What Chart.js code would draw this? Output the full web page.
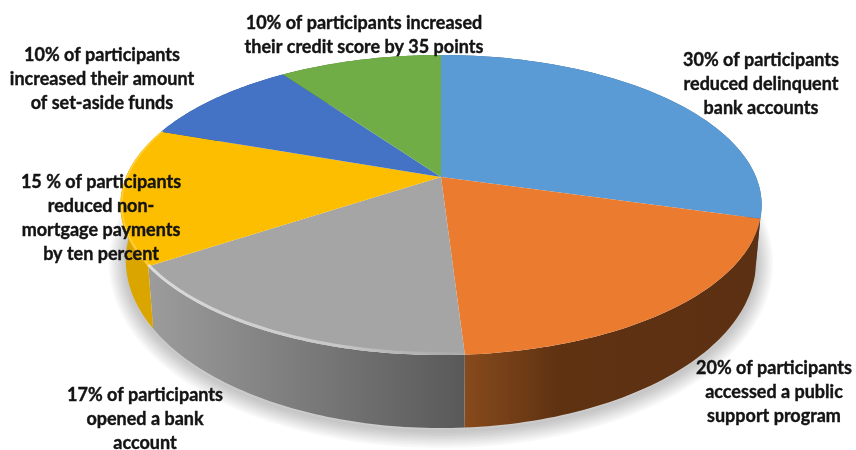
<!DOCTYPE html>
<html>
<head>
<meta charset="utf-8">
<style>
html, body { margin: 0; padding: 0; background: #fff; }
#myChart { display: block; filter: blur(0.55px); }
</style>
<script src="https://cdn.jsdelivr.net/npm/chart.js@4"></script>
</head>
<body>
<canvas id="myChart" width="856" height="450"></canvas>
<script>
// data
var categories = [
    ['30% of participants', 'reduced delinquent', 'bank accounts'],
    ['20% of participants', 'accessed a public', 'support program'],
    ['17% of participants', 'opened a bank', 'account'],
    ['15 % of participants', 'reduced non-', 'mortgage payments', 'by ten percent'],
    ['10% of participants', 'increased their amount', 'of set-aside funds'],
    ['10% of participants increased', 'their credit score by 35 points']
];
var values = [30, 20, 17, 15, 10, 10];

// look
var topColors = ['#5B9BD5', '#EB7B2F', '#A5A5A5', '#FDBE00', '#4472C4', '#70AD47'];
var wallColors = [
    [[0, '#2f5f8a'], [1, '#2f5f8a']],
    [[0, '#5c3012'], [0.68, '#5f3212'], [1, '#874a1c']],
    [[0, '#595959'], [1, '#9c9c9c']],
    [[0, '#dba500'], [1, '#dba500']],
    [[0, '#2f5597'], [1, '#2f5597']],
    [[0, '#4e7a31'], [1, '#4e7a31']]
];
var labelCenters = [[761, 60], [774, 368], [145, 395], [101, 182], [102, 55], [364, 23]];
var lineGap = 24;

// camera: tilted disc with perspective, apex is not the ellipse centre
var apexX = 441, apexY = 177, scaleX = 315, scaleY = 144.8, persp = 0.1867;
var lowerX = 0.983, lowerY = 1.118, lowerShift = 52;

function project(u, v) {
    var w = 1 + persp * v;
    return { x: apexX + scaleX * u / w, y: apexY - scaleY * v / w };
}
function lower(p) {
    return { x: apexX + lowerX * (p.x - apexX), y: apexY + lowerShift + lowerY * (p.y - apexY) };
}
// rim of one arc element, from the angles chart.js worked out
function rim(el) {
    var pts = [], n = 60;
    for (var i = 0; i <= n; i++) {
        var a = el.startAngle + (el.endAngle - el.startAngle) * i / n;
        pts.push(project(Math.cos(a), -Math.sin(a)));
    }
    return pts;
}
function trace(ctx, pts) {
    pts.forEach(function (p, i) {
        if (i == 0) ctx.moveTo(p.x, p.y); else ctx.lineTo(p.x, p.y);
    });
}
function traceOn(ctx, pts) {
    pts.forEach(function (p) { ctx.lineTo(p.x, p.y); });
}

var pie3d = {
    id: 'pie3d',
    beforeDatasetsDraw: function (chart) {
        var ctx = chart.ctx;
        var arcs = chart.getDatasetMeta(0).data;
        var rims = arcs.map(rim);

        // soft shadow under the whole thing, stacked strokes
        ctx.save();
        ctx.translate(0, 3);
        ctx.lineJoin = 'round';
        ctx.strokeStyle = 'rgba(0,0,0,0.022)';
        for (var w = 34; w > 0; w -= 3) {
            ctx.lineWidth = w;
            ctx.beginPath();
            rims.forEach(function (r, i) {
                if (i == 0) trace(ctx, r.map(lower)); else traceOn(ctx, r.map(lower));
            });
            ctx.closePath();
            ctx.stroke();
        }
        ctx.restore();

        // walls
        rims.forEach(function (r, i) {
            var bottom = r.map(lower).reverse();
            var g = ctx.createLinearGradient(r[0].x, 0, r[r.length - 1].x, 0);
            wallColors[i].forEach(function (s) { g.addColorStop(s[0], s[1]); });
            ctx.fillStyle = g;
            ctx.beginPath();
            trace(ctx, r.concat(bottom));
            ctx.closePath();
            ctx.fill();
        });

        // top faces
        rims.forEach(function (r, i) {
            var apex = project(0, 0);
            ctx.fillStyle = topColors[i];
            ctx.beginPath();
            ctx.moveTo(apex.x, apex.y);
            traceOn(ctx, r);
            ctx.closePath();
            ctx.fill();
        });

        // bevel highlight on the grey and yellow rims
        var grey = rims[2];
        var hl = ctx.createLinearGradient(grey[grey.length - 1].x, 0, grey[0].x, 0);
        hl.addColorStop(0, 'rgba(232,232,232,0.8)');
        hl.addColorStop(0.6, 'rgba(222,222,222,0.6)');
        hl.addColorStop(1, 'rgba(200,200,200,0.1)');
        ctx.strokeStyle = hl;
        ctx.lineWidth = 3;
        ctx.beginPath();
        trace(ctx, grey.map(function (p) { return { x: p.x, y: p.y - 1.5 }; }));
        ctx.stroke();
        ctx.strokeStyle = 'rgba(255,225,120,0.5)';
        ctx.lineWidth = 1.5;
        ctx.beginPath();
        trace(ctx, rims[3].map(function (p) { return { x: p.x + 1.5, y: p.y - 0.5 }; }));
        ctx.stroke();

        return false;
    },
    afterDraw: function (chart) {
        var ctx = chart.ctx;
        ctx.save();
        ctx.font = 'bold 18px Lato';
        ctx.fillStyle = '#141414';
        ctx.strokeStyle = '#141414';
        ctx.lineWidth = 0.4;
        ctx.textAlign = 'center';
        ctx.textBaseline = 'middle';
        chart.data.labels.forEach(function (lines, i) {
            lines.forEach(function (line, j) {
                ctx.fillText(line, labelCenters[i][0], labelCenters[i][1] + j * lineGap);
                ctx.strokeText(line, labelCenters[i][0], labelCenters[i][1] + j * lineGap);
            });
        });
        ctx.restore();
    }
};

new Chart(document.getElementById('myChart'), {
    type: 'pie',
    data: {
        labels: categories,
        datasets: [{ data: values, backgroundColor: topColors, borderWidth: 0 }]
    },
    options: {
        responsive: false,
        devicePixelRatio: 1,
        animation: false,
        plugins: { legend: { display: false }, tooltip: { enabled: false } }
    },
    plugins: [pie3d]
});
</script>
</body>
</html>
